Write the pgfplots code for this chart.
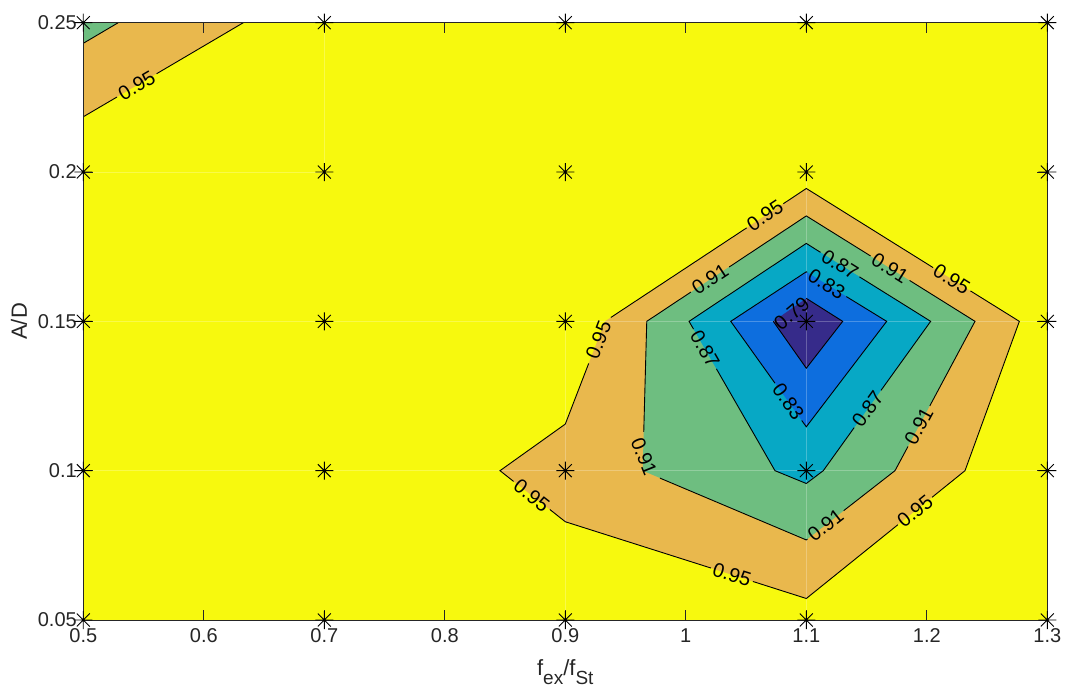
\documentclass[border=0pt]{standalone}
\usepackage{fontspec}
\setmainfont{Liberation Sans}
\usepackage{pgfplots}
\pgfplotsset{compat=1.18}
\usepackage{pgfplotstable}

% parula-like level colours
\definecolor{pyellow}{RGB}{247,249,14}
\definecolor{porange}{RGB}{233,184,77}
\definecolor{pgreen}{RGB}{110,190,128}
\definecolor{pcyan}{RGB}{7,168,197}
\definecolor{pblue}{RGB}{13,110,222}
\definecolor{ppurple}{RGB}{54,43,138}
\definecolor{axisgray}{RGB}{38,38,38}

% eight-spoke asterisk
\pgfdeclareplotmark{mstar}{%
  \pgfpathmoveto{\pgfpoint{-\pgfplotmarksize}{0pt}}\pgfpathlineto{\pgfpoint{\pgfplotmarksize}{0pt}}%
  \pgfpathmoveto{\pgfpoint{0pt}{-\pgfplotmarksize}}\pgfpathlineto{\pgfpoint{0pt}{\pgfplotmarksize}}%
  \pgfpathmoveto{\pgfpoint{-0.72\pgfplotmarksize}{-0.72\pgfplotmarksize}}\pgfpathlineto{\pgfpoint{0.72\pgfplotmarksize}{0.72\pgfplotmarksize}}%
  \pgfpathmoveto{\pgfpoint{-0.72\pgfplotmarksize}{0.72\pgfplotmarksize}}\pgfpathlineto{\pgfpoint{0.72\pgfplotmarksize}{-0.72\pgfplotmarksize}}%
  \pgfusepathqstroke}

\newcommand\sub[1]{\raisebox{-9bp}{\fontsize{19bp}{19bp}\selectfont #1}}

% measurement grid
\pgfplotstableread{
x y
0.5 0.05
0.5 0.10
0.5 0.15
0.5 0.20
0.5 0.25
0.7 0.05
0.7 0.10
0.7 0.15
0.7 0.20
0.7 0.25
0.9 0.05
0.9 0.10
0.9 0.15
0.9 0.20
0.9 0.25
1.1 0.05
1.1 0.10
1.1 0.15
1.1 0.20
1.1 0.25
1.3 0.05
1.3 0.10
1.3 0.15
1.3 0.20
1.3 0.25
}\gridpts

\pgfplotsset{
  cfill/.style={draw=none, fill=#1, no marks, forget plot},
  cline/.style={black, line width=0.9bp, no marks, forget plot},
  seam/.style={white, opacity=0.25, line width=0.8bp, no marks, forget plot},
}
\tikzset{clabel/.style={font=\fontsize{20bp}{20bp}\selectfont, inner sep=0pt, text=black}}

\begin{document}
\begin{tikzpicture}
\begin{axis}[
  scale only axis,
  width=964bp, height=597.3bp,
  xmin=0.5, xmax=1.3, ymin=0.05, ymax=0.25,
  xtick={0.5,0.6,0.7,0.8,0.9,1.0,1.1,1.2,1.3},
  xticklabels={0.5,0.6,0.7,0.8,0.9,1,1.1,1.2,1.3},
  ytick={0.05,0.1,0.15,0.2,0.25},
  yticklabels={0.05,0.1,0.15,0.2,0.25},
  tick align=inside,
  major tick length=10bp,
  axis on top,
  clip=false,
  axis background/.style={fill=pyellow},
  axis line style={axisgray, line width=0.8bp},
  tick style={axisgray, line width=0.8bp},
  ticklabel style={font=\fontsize{20bp}{20bp}\selectfont, text=axisgray},
  xticklabel style={yshift=-5bp},
  yticklabel style={xshift=-3bp},
  /pgf/number format/assume math mode=true,
  xlabel={f\sub{ex}/f\sub{St}},
  ylabel={A/D},
  label style={font=\fontsize{22bp}{22bp}\selectfont, text=axisgray},
  xlabel style={yshift=-10bp},
  ylabel style={yshift=4bp},
]

% filled levels, outermost first
\addplot[cfill=porange] coordinates {(1.1,0.1945)(1.2768,0.15)(1.2317,0.1)(1.1,0.0572)(0.9,0.0829)(0.8458,0.1)(0.9,0.1156)(0.9329,0.15)(1.1,0.1945)};
\addplot[cfill=porange] coordinates {(0.5,0.25)(0.6328,0.25)(0.5,0.2185)(0.5,0.25)};
\addplot[cfill=pgreen] coordinates {(1.1,0.1853)(1.24,0.15)(1.1736,0.1)(1.1,0.0768)(0.9642,0.1)(0.9676,0.15)(1.1,0.1853)};
\addplot[cfill=pgreen] coordinates {(0.5,0.25)(0.529,0.25)(0.5,0.2431)(0.5,0.25)};
\addplot[cfill=pcyan] coordinates {(1.1,0.1761)(1.2032,0.15)(1.1141,0.1)(1.1,0.0957)(1.074,0.1)(1.0027,0.15)(1.1,0.1761)};
\addplot[cfill=pblue] coordinates {(1.1,0.1666)(1.1667,0.15)(1.1,0.1147)(1.0373,0.15)(1.1,0.1666)};
\addplot[cfill=ppurple] coordinates {(1.1,0.1577)(1.1302,0.15)(1.1,0.1343)(1.0726,0.15)(1.1,0.1577)};

% faint patch seams
\addplot[seam] coordinates {(0.7,0.2)(0.7,0.25)};
\addplot[seam] coordinates {(0.5,0.2)(0.7,0.2)};
\addplot[seam] coordinates {(0.5,0.15)(1.3,0.15)};
\addplot[seam] coordinates {(0.5,0.1)(1.3,0.1)};
\addplot[seam] coordinates {(0.9,0.05)(0.9,0.15)};
\addplot[seam] coordinates {(1.1,0.05)(1.1,0.2)};

% 0.95 contour
\addplot[cline] coordinates {(0.9378,0.1513)(1.0505,0.1813)};
\addplot[cline] coordinates {(1.0810,0.1894)(1.1,0.1945)(1.2052,0.1680)};
\addplot[cline] coordinates {(1.2362,0.1602)(1.2768,0.15)(1.2317,0.1)(1.2044,0.0911)};
\addplot[cline] coordinates {(1.1760,0.0819)(1.1,0.0572)(1.0557,0.0629)};
\addplot[cline] coordinates {(1.0209,0.0674)(0.9,0.0829)(0.8872,0.0870)};
\addplot[cline] coordinates {(0.8571,0.0964)(0.8458,0.1)(0.9,0.1156)(0.9194,0.1359)};
\addplot[cline] coordinates {(0.5,0.2185)(0.5279,0.2251)};
\addplot[cline] coordinates {(0.5608,0.2329)(0.6328,0.25)};
% 0.91 contour
\addplot[cline] coordinates {(1.0360,0.1682)(1.1,0.1853)(1.1533,0.1719)};
\addplot[cline] coordinates {(1.1857,0.1637)(1.24,0.15)(1.2025,0.1217)};
\addplot[cline] coordinates {(1.1844,0.1081)(1.1736,0.1)(1.1310,0.0866)};
\addplot[cline] coordinates {(1.1009,0.0771)(1.1,0.0768)(0.9786,0.0975)};
\addplot[cline] coordinates {(0.9651,0.1130)(0.9676,0.15)(1.0042,0.1598)};
\addplot[cline] coordinates {(0.529,0.25)(0.5,0.2431)};
% 0.87 contour
\addplot[cline] coordinates {(1.1441,0.1649)(1.2032,0.15)(1.1620,0.1269)};
\addplot[cline] coordinates {(1.1397,0.1144)(1.1141,0.1)(1.1,0.0957)(1.074,0.1)(1.0254,0.1341)};
\addplot[cline] coordinates {(1.0064,0.1474)(1.0027,0.15)(1.1,0.1761)(1.1118,0.1731)};
% 0.83 contour
\addplot[cline] coordinates {(1.1332,0.1583)(1.1667,0.15)(1.1,0.1147)(1.0962,0.1168)};
\addplot[cline] coordinates {(1.0740,0.1293)(1.0373,0.15)(1.1,0.1666)(1.1007,0.1664)};
% 0.79 contour
\addplot[cline] coordinates {(1.1,0.1577)(1.1302,0.15)(1.1,0.1343)(1.0726,0.15)};

% level labels
\node[clabel, rotate=33.45] at (axis cs:1.0657,0.1854) {0.95};
\node[clabel, rotate=-32.0] at (axis cs:1.2207,0.1641) {0.95};
\node[clabel, rotate=38.8] at (axis cs:1.1902,0.0865) {0.95};
\node[clabel, rotate=-17.6] at (axis cs:1.0383,0.0651) {0.95};
\node[clabel, rotate=-38.0] at (axis cs:0.8721,0.0917) {0.95};
\node[clabel, rotate=68.9] at (axis cs:0.9275,0.1437) {0.95};
\node[clabel, rotate=30.4] at (axis cs:0.5444,0.2290) {0.95};
\node[clabel, rotate=33.4] at (axis cs:1.0201,0.1640) {0.91};
\node[clabel, rotate=-32.0] at (axis cs:1.1695,0.1678) {0.91};
\node[clabel, rotate=61.8] at (axis cs:1.1934,0.1149) {0.91};
\node[clabel, rotate=38.0] at (axis cs:1.1159,0.0818) {0.91};
\node[clabel, rotate=-68] at (axis cs:0.9653,0.1047) {0.91};
\node[clabel, rotate=-32.1] at (axis cs:1.1280,0.1690) {0.87};
\node[clabel, rotate=54.3] at (axis cs:1.1509,0.1206) {0.87};
\node[clabel, rotate=-60.1] at (axis cs:1.0159,0.1407) {0.87};
\node[clabel, rotate=-31.7] at (axis cs:1.1169,0.1624) {0.83};
\node[clabel, rotate=-54.35] at (axis cs:1.0851,0.1231) {0.83};
\node[clabel, rotate=40] at (axis cs:1.0879,0.1527) {0.79};

% measurement points
\addplot[only marks, mark=mstar, mark size=9bp, black, line width=0.9bp] table[x=x, y=y] {\gridpts};

\end{axis}
\pgfresetboundingbox
\path[use as bounding box] ([shift={(-83.3bp,-69bp)}]current axis.south west) rectangle ([shift={(19.7bp,22.7bp)}]current axis.north east);
\end{tikzpicture}
\end{document}
